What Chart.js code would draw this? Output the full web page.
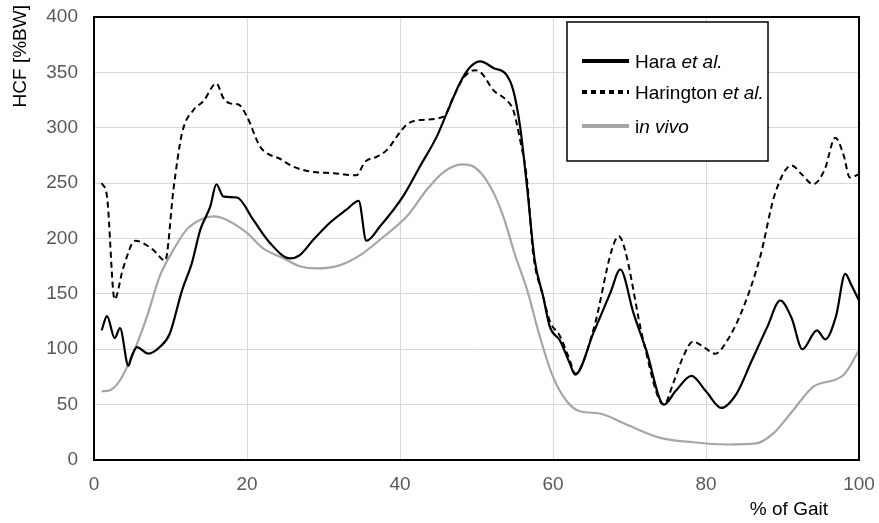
<!DOCTYPE html>
<html>
<head>
<meta charset="utf-8">
<script src="https://cdn.jsdelivr.net/npm/chart.js@4.4.1/dist/chart.umd.min.js"></script>
<style>
  html, body { margin: 0; padding: 0; background: #fff; }
  #wrap { width: 879px; height: 523px; }
</style>
</head>
<body>
<div id="wrap"><canvas id="myChart" width="879" height="523"></canvas></div>
<script>
// % of gait (x) and HCF [%BW] (y)
const haraX = [1, 1.7, 2.7, 3.4, 4.5, 4.9, 5.6, 7.1, 8.6, 9.9, 11.5, 12.8, 13.9, 15.2, 16, 16.9, 18.7, 20.8, 23, 25.6, 26.9, 28.7, 30.8, 33, 34.6, 35.6, 37.4, 40.4, 42.6, 44.8, 46.1, 47.8, 49.2, 50.5, 52.2, 53.9, 54.8, 55.7, 56.6, 57.6, 58.7, 59.6, 60.9, 62.2, 62.9, 65.3, 67.5, 68.8, 70.5, 72.2, 74.5, 76, 78.1, 80, 82, 84, 86, 88, 89.7, 91.2, 92.6, 94.5, 95.6, 97, 98.2, 99, 100]
const haraY = [117, 130, 110, 119, 85, 93, 102, 96, 102, 114, 153, 178, 208, 229, 249, 238, 237, 217, 196, 182, 185, 199, 214, 226, 234, 198, 211, 238, 265, 292, 313, 340, 355, 360, 354, 348, 334, 301, 247, 181, 148, 120, 108, 87, 77, 115, 151, 172, 133, 99, 50, 62, 76, 62, 47, 60, 90, 120, 144, 128, 100, 117, 109, 130, 168, 158, 144]

const haringtonX = [1, 1.7, 2.7, 3.8, 5.4, 7.7, 9.3, 10.4, 11.5, 13, 14.3, 16, 16.9, 17.8, 18.9, 20, 21.7, 22.6, 24.3, 26, 28.7, 31.3, 34.3, 35.4, 37, 38.3, 40, 40.9, 42.6, 45.7, 47, 48.3, 49.8, 50.7, 52.2, 53.9, 54.8, 55.7, 56.6, 57.4, 58.7, 59.6, 60.9, 62.2, 62.9, 65.3, 67.7, 68.6, 69.4, 71.8, 74.5, 75.7, 77, 78.3, 79.7, 81.2, 82.7, 84.9, 87.1, 89, 91.2, 92.5, 94, 95.5, 96.9, 98, 98.8, 100]
const haringtonY = [250, 238, 145, 173, 198, 190, 180, 245, 295, 316, 324, 340, 327, 322, 321, 310, 283, 277, 272, 265, 260, 259, 257, 269, 274, 280, 296, 303, 307, 310, 328, 345, 352, 349, 334, 325, 316, 289, 253, 187, 148, 125, 112, 90, 78, 118, 190, 202, 190, 108, 50, 69, 93, 107, 102, 96, 107, 138, 184, 240, 266, 258, 249, 262, 291, 275, 255, 258]

const inVivoX = [1, 2.1, 3.4, 5.1, 6.9, 8.6, 10.4, 12.1, 13.9, 15.6, 17.3, 20, 22.1, 24.5, 26.9, 29.1, 32.2, 34.8, 37.4, 40.9, 43.5, 45.7, 48.1, 49.6, 51.8, 53.5, 55, 56.6, 58.3, 60, 61.8, 63.5, 66.1, 69.6, 74, 78.3, 82.7, 86.6, 88.8, 91.4, 94, 98, 100]
const inVivoY = [62, 63, 72, 96, 129, 166, 190, 208, 217, 220, 217, 205, 191, 183, 175, 173, 176, 185, 199, 220, 244, 260, 267, 265, 247, 220, 186, 154, 111, 75, 53, 44, 42, 32, 20, 16, 14, 15, 24, 45, 66, 77, 99]

const xTicks = [0, 20, 40, 60, 80, 100]
const yTicks = [0, 50, 100, 150, 200, 250, 300, 350, 400]

const toPoints = (xs, ys) => xs.map((x, i) => ({ x: x, y: ys[i] }))

const FONT = '"Liberation Sans", Arial, sans-serif'

// frame, axis titles and the legend with its partly italic labels
const extras = {
    id: 'extras',
    afterDatasetsDraw(chart) {
        const ctx = chart.ctx
        const a = chart.chartArea
        ctx.save()
        ctx.strokeStyle = '#000'
        ctx.lineWidth = 2
        ctx.strokeRect(a.left, a.top, a.right - a.left, a.bottom - a.top)

        // y title
        ctx.fillStyle = '#000'
        ctx.font = '19px ' + FONT
        ctx.save()
        ctx.translate(26, 5)
        ctx.rotate(-Math.PI / 2)
        ctx.textAlign = 'right'
        ctx.textBaseline = 'alphabetic'
        ctx.fillText('HCF [%BW]', 0, 0)
        ctx.restore()

        // x title
        ctx.textAlign = 'right'
        ctx.textBaseline = 'alphabetic'
        ctx.fillText('% of Gait', 828, 515)

        // legend box
        ctx.fillStyle = '#fff'
        ctx.fillRect(567, 22, 201, 139)
        ctx.lineWidth = 1.5
        ctx.strokeStyle = '#000'
        ctx.strokeRect(567, 22, 201, 139)

        const rows = [
            { y: 61, color: '#000', dash: [], parts: [['Hara ', false], ['et al.', true]] },
            { y: 92, color: '#000', dash: [5, 4], parts: [['Harington ', false], ['et al.', true]] },
            { y: 126, color: '#a6a6a6', dash: [], parts: [['i', false], ['n vivo', true]] }
        ]
        rows.forEach(r => {
            ctx.beginPath()
            ctx.setLineDash(r.dash)
            ctx.lineCap = 'butt'
            ctx.lineWidth = 4
            ctx.strokeStyle = r.color
            ctx.moveTo(582, r.y)
            ctx.lineTo(629, r.y)
            ctx.stroke()
            ctx.setLineDash([])
            let x = 635
            ctx.fillStyle = '#000'
            ctx.textAlign = 'left'
            r.parts.forEach(p => {
                ctx.font = (p[1] ? 'italic ' : '') + '19px ' + FONT
                ctx.fillText(p[0], x, r.y + 7)
                x += ctx.measureText(p[0]).width
            })
        })
        ctx.restore()
    }
}

let ctx = document.getElementById('myChart').getContext('2d');
let myChart = new Chart(ctx, {
    type: 'line',
    data: {
        datasets: [{
            label: 'Hara et al.',
            data: toPoints(haraX, haraY),
            borderColor: '#000',
            borderWidth: 2.2,
            fill: false
        }, {
            label: 'Harington et al.',
            data: toPoints(haringtonX, haringtonY),
            borderColor: '#000',
            borderWidth: 2,
            borderDash: [6, 4],
            fill: false
        }, {
            label: 'in vivo',
            data: toPoints(inVivoX, inVivoY),
            borderColor: '#a6a6a6',
            borderWidth: 2.2,
            fill: false
        }]
    },
    options: {
        responsive: false,
        animation: false,
        elements: {
            point: { radius: 0 },
            line: { cubicInterpolationMode: 'monotone' }
        },
        layout: { padding: { top: 17, right: 20, left: 0, bottom: 0 } },
        plugins: {
            legend: { display: false },
            tooltip: { enabled: false }
        },
        scales: {
            x: {
                type: 'linear',
                min: 0,
                max: 100,
                afterBuildTicks: s => { s.ticks = xTicks.map(v => ({ value: v })) },
                afterFit: s => { s.height = 63; s.paddingLeft = 0; s.paddingRight = 0 },
                grid: { color: '#d9d9d9', lineWidth: 1, drawTicks: false },
                border: { display: false },
                ticks: { color: '#595959', font: { family: FONT, size: 19 }, padding: 13, maxRotation: 0 }
            },
            y: {
                min: 0,
                max: 400,
                afterBuildTicks: s => { s.ticks = yTicks.map(v => ({ value: v })) },
                afterFit: s => { s.width = 94; s.paddingTop = 0; s.paddingBottom = 0 },
                grid: { color: '#d9d9d9', lineWidth: 1, drawTicks: false },
                border: { display: false },
                ticks: { color: '#595959', font: { family: FONT, size: 19 }, padding: 16 }
            }
        }
    },
    plugins: [extras]
});
</script>
</body>
</html>
